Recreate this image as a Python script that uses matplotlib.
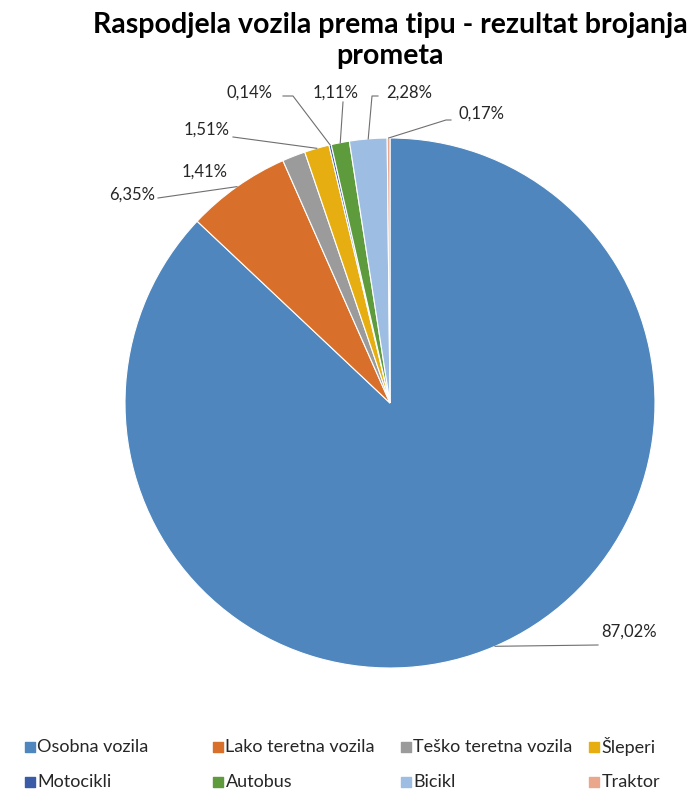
"""
Raspodjela vozila prema tipu - pita graf (rezultat brojanja prometa)
"""
import numpy as np
import matplotlib
matplotlib.use("Agg")
import matplotlib.pyplot as plt

W, H = 694, 789

categories = ["Osobna vozila", "Lako teretna vozila", "Teško teretna vozila", "Šleperi",
              "Motocikli", "Autobus", "Bicikl", "Traktor"]
shares = [87.02, 6.35, 1.41, 1.51, 0.14, 1.11, 2.28, 0.17]
colors = ["#4F86BE", "#D8702C", "#9B9B9B", "#E6AE10", "#3A5CA6", "#5E9B3C", "#9DBDE2", "#EBA78C"]

# text position (px, y down), alignment, extra elbow points for the leader line
label_layout = [
    ((601, 632), "left", [(598, 645)]),
    ((155, 195), "right", [(158, 198)]),
    ((205, 172), "center", None),
    ((230, 130), "right", [(233, 137)]),
    ((250, 93), "center", [(283, 96), (293, 96)]),
    ((336, 93), "center", [(343, 102)]),
    ((409, 93), "center", [(378, 96), (372, 96)]),
    ((482, 114), "center", [(451, 120), (446, 120)]),
]

plt.rcParams["font.family"] = ["Lato", "DejaVu Sans"]
fig = plt.figure(figsize=(W / 100, H / 100), dpi=100)
ax = fig.add_axes([0, 0, 1, 1])

cx, cy, r = 390, 403, 265
ax.pie(shares, colors=colors, startangle=90, counterclock=False,
       center=(cx, H - cy), radius=r,
       wedgeprops=dict(edgecolor="white", linewidth=0.8))
ax.set_xlim(0, W); ax.set_ylim(0, H); ax.set_aspect("equal"); ax.axis("off")

cum = np.cumsum([0] + shares[:-1])
for i, (val, (tpos, ha, elbow)) in enumerate(zip(shares, label_layout)):
    mid = np.deg2rad(90 - (cum[i] + val / 2) / sum(shares) * 360)
    ex, ey = cx + r * np.cos(mid), cy - r * np.sin(mid)
    if elbow:
        pts = elbow + [(ex, ey)]
        ax.plot([p[0] for p in pts], [H - p[1] for p in pts], color="#6f6f6f", lw=0.8, zorder=3)
    ax.text(tpos[0], H - tpos[1], f"{val:.2f}%".replace(".", ","), ha=ha, va="center",
            fontsize=12, color="#262626")

# title, two lines
for line, base in zip(["Raspodjela vozila prema tipu - rezultat brojanja", "prometa"], [33, 64]):
    ax.text(390, H - base, line, ha="center", va="baseline", fontsize=20.5, fontweight="bold")

# legend: 2 rows x 4 columns, fixed column width as in Excel
for k, (name, col) in enumerate(zip(categories, colors)):
    row, c = divmod(k, 4)
    x0, y0 = 30 + c * 188, 747 + row * 35
    ax.scatter([x0], [H - y0], marker="s", s=42, color=col, clip_on=False)
    ax.text(x0 + 7.5, H - y0, name, ha="left", va="center", fontsize=13, color="#262626")

fig.savefig("out.png", dpi=100)
